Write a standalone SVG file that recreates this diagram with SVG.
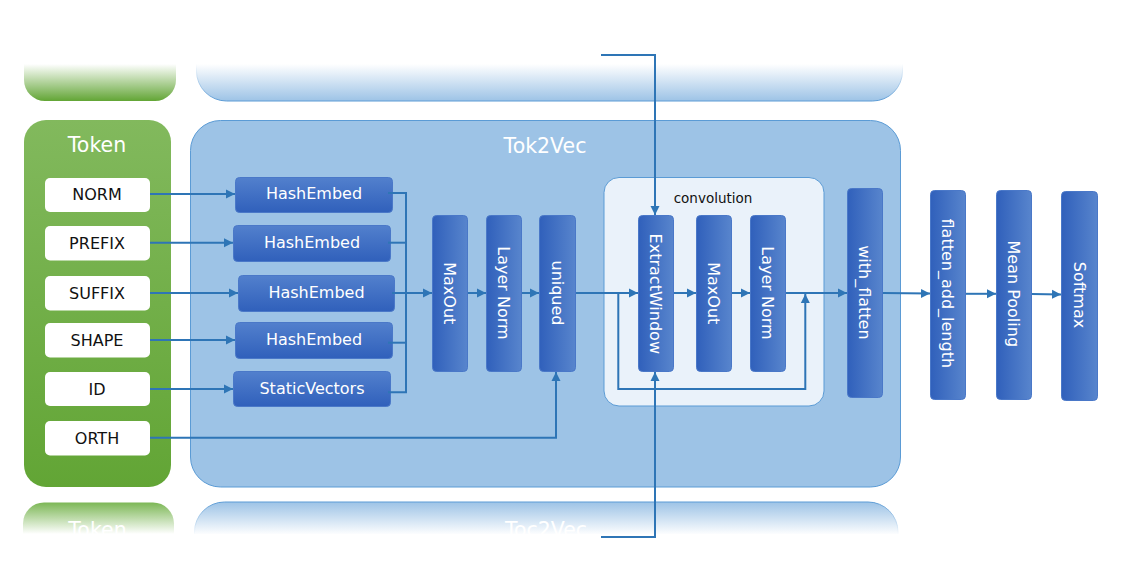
<svg xmlns="http://www.w3.org/2000/svg" width="1127" height="586" viewBox="0 0 1127 586">
<defs>
<style>
.t{font-family:"DejaVu Sans","Liberation Sans",sans-serif;}
.in{fill:#ffffff;}
.inT{font-size:16px;fill:#111111;text-anchor:middle;}
.nd{fill:url(#gH);stroke:#4a78c8;stroke-width:1;}
.ndv{fill:url(#gV);stroke:#4a78c8;stroke-width:1;}
.nT{font-size:16px;fill:#ffffff;text-anchor:middle;}
.ttl{font-size:20.5px;fill:#ffffff;text-anchor:middle;}
.c{fill:none;stroke:#2e75b6;stroke-width:2;}
.ca{fill:none;stroke:#2e75b6;stroke-width:2;marker-end:url(#ah);}
</style>
<linearGradient id="gH" x1="0" y1="0" x2="0" y2="1">
<stop offset="0" stop-color="#5280cd"/>
<stop offset="1" stop-color="#3060bb"/>
</linearGradient>
<linearGradient id="gV" x1="0" y1="0" x2="1" y2="0">
<stop offset="0" stop-color="#3060bb"/>
<stop offset="1" stop-color="#5885cd"/>
</linearGradient>
<linearGradient id="gTok" x1="0" y1="0" x2="0" y2="1">
<stop offset="0" stop-color="#82b95d"/>
<stop offset="1" stop-color="#62a535"/>
</linearGradient>
<linearGradient id="fadeGT" gradientUnits="userSpaceOnUse" x1="0" y1="64" x2="0" y2="101">
<stop offset="0" stop-color="#ffffff"/>
<stop offset="1" stop-color="#62a535"/>
</linearGradient>
<linearGradient id="fadeBT" gradientUnits="userSpaceOnUse" x1="0" y1="64" x2="0" y2="101">
<stop offset="0" stop-color="#ffffff"/>
<stop offset="1" stop-color="#9dc3e6"/>
</linearGradient>
<linearGradient id="fadeBTs" gradientUnits="userSpaceOnUse" x1="0" y1="64" x2="0" y2="101">
<stop offset="0" stop-color="#ffffff"/>
<stop offset="1" stop-color="#5b9bd5"/>
</linearGradient>
<linearGradient id="fadeGB" gradientUnits="userSpaceOnUse" x1="0" y1="502" x2="0" y2="534">
<stop offset="0" stop-color="#7ab653"/>
<stop offset="1" stop-color="#ffffff"/>
</linearGradient>
<linearGradient id="fadeBB" gradientUnits="userSpaceOnUse" x1="0" y1="502" x2="0" y2="535">
<stop offset="0" stop-color="#9dc3e6"/>
<stop offset="1" stop-color="#ffffff"/>
</linearGradient>
<linearGradient id="fadeBBs" gradientUnits="userSpaceOnUse" x1="0" y1="502" x2="0" y2="535">
<stop offset="0" stop-color="#5b9bd5"/>
<stop offset="1" stop-color="#ffffff"/>
</linearGradient>
<clipPath id="clipTop"><rect x="0" y="60" width="1127" height="50"/></clipPath>
<clipPath id="clipBot"><rect x="0" y="495" width="1127" height="39"/></clipPath>
<marker id="ah" viewBox="0 0 10 10" refX="10" refY="5" markerWidth="9" markerHeight="12" markerUnits="userSpaceOnUse" orient="auto">
<path d="M0,0 L10,5 L0,10 z" fill="#2e75b6"/>
</marker>
</defs>
<rect width="1127" height="586" fill="#ffffff"/>

<!-- faded reflections -->
<g id="fadeTop" clip-path="url(#clipTop)">
<rect x="24" y="20" width="152" height="81" rx="21" fill="url(#fadeGT)"/>
<rect x="196.5" y="20" width="706" height="81" rx="30" fill="url(#fadeBT)" stroke="url(#fadeBTs)" stroke-width="1"/>
</g>
<g id="fadeBottom" clip-path="url(#clipBot)">
<rect x="23" y="502.5" width="151" height="80" rx="21" fill="url(#fadeGB)"/>
<rect x="194.5" y="502" width="703.5" height="80" rx="30" fill="url(#fadeBB)" stroke="url(#fadeBBs)" stroke-width="1"/>
<text class="t ttl" x="97.5" y="537">Token</text>
<text class="t ttl" x="546" y="537">Toc2Vec</text>
</g>

<!-- Token panel -->
<g id="token">
<rect x="24" y="120" width="147" height="367" rx="22" fill="url(#gTok)"/>
<text class="t ttl" x="97" y="151.5">Token</text>
</g>

<!-- Tok2Vec panel -->
<g id="tok2vec">
<rect x="190.5" y="120.5" width="710" height="366.5" rx="30" fill="#9dc3e6" stroke="#5b9bd5" stroke-width="1"/>
<text class="t ttl" x="545" y="153">Tok2Vec</text>
</g>

<!-- convolution panel -->
<g id="convolution">
<rect x="604" y="177.5" width="220" height="228.5" rx="15" fill="#eaf2fa" stroke="#5b9bd5" stroke-width="1"/>
<text class="t" x="713" y="203" font-size="13.5" fill="#111111" text-anchor="middle">convolution</text>
</g>

<!-- inputs -->
<g id="in-norm"><rect class="in" x="45" y="178" width="105" height="34" rx="5"/><text class="t inT" x="97" y="199.8">NORM</text></g>
<g id="in-prefix"><rect class="in" x="45" y="226" width="105" height="34.5" rx="5"/><text class="t inT" x="97" y="248.8">PREFIX</text></g>
<g id="in-suffix"><rect class="in" x="45" y="276" width="105" height="34.5" rx="5"/><text class="t inT" x="97" y="298.8">SUFFIX</text></g>
<g id="in-shape"><rect class="in" x="45" y="323" width="105" height="34.5" rx="5"/><text class="t inT" x="97" y="345.8">SHAPE</text></g>
<g id="in-id"><rect class="in" x="45" y="372" width="105" height="34" rx="5"/><text class="t inT" x="97" y="394.8">ID</text></g>
<g id="in-orth"><rect class="in" x="45" y="421" width="105" height="34.5" rx="5"/><text class="t inT" x="97" y="443.8">ORTH</text></g>

<!-- embeddings -->
<g id="hashembed1"><rect class="nd" x="235.5" y="177.5" width="157" height="35" rx="4"/><text class="t nT" x="314" y="198.8">HashEmbed</text></g>
<g id="hashembed2"><rect class="nd" x="233.5" y="225.5" width="157" height="36" rx="4"/><text class="t nT" x="312" y="248">HashEmbed</text></g>
<g id="hashembed3"><rect class="nd" x="238.5" y="275.5" width="156" height="36" rx="4"/><text class="t nT" x="316.5" y="298">HashEmbed</text></g>
<g id="hashembed4"><rect class="nd" x="235.5" y="322.5" width="157" height="36" rx="4"/><text class="t nT" x="314" y="345">HashEmbed</text></g>
<g id="staticvectors"><rect class="nd" x="233.5" y="371.5" width="157" height="35" rx="4"/><text class="t nT" x="312" y="393.8">StaticVectors</text></g>

<!-- vertical nodes -->
<g id="maxout1"><rect class="ndv" x="432.5" y="215.5" width="35" height="156" rx="4"/><text class="t nT" x="450" y="299" transform="rotate(90 450 293.3)">MaxOut</text></g>
<g id="layernorm1"><rect class="ndv" x="486.5" y="215.5" width="35" height="156" rx="4"/><text class="t nT" x="504" y="299" transform="rotate(90 504 293)">Layer Norm</text></g>
<g id="uniqued"><rect class="ndv" x="539.5" y="215.5" width="36" height="156" rx="4"/><text class="t nT" x="557.5" y="299" transform="rotate(90 557.5 293)">uniqued</text></g>
<g id="extractwindow"><rect class="ndv" x="638.5" y="215.5" width="35" height="156" rx="4"/><text class="t nT" x="656" y="299.6" transform="rotate(90 656 293.8)">ExtractWindow</text></g>
<g id="maxout2"><rect class="ndv" x="696.5" y="215.5" width="35" height="156" rx="4"/><text class="t nT" x="714" y="299" transform="rotate(90 714 293.3)">MaxOut</text></g>
<g id="layernorm2"><rect class="ndv" x="750.5" y="215.5" width="35" height="156" rx="4"/><text class="t nT" x="768" y="299" transform="rotate(90 768 293)">Layer Norm</text></g>
<g id="with_flatten"><rect class="ndv" x="847.5" y="188.5" width="35" height="209" rx="4"/><text class="t nT" x="865" y="298.2" transform="rotate(90 865 292.4)">with_flatten</text></g>
<g id="flatten_add_length"><rect class="ndv" x="930.5" y="190.5" width="35" height="209" rx="4"/><text class="t nT" x="948" y="299.1" transform="rotate(90 948 293.3)">flatten_add_length</text></g>
<g id="mean_pooling"><rect class="ndv" x="996.5" y="190.5" width="35" height="209" rx="4"/><text class="t nT" x="1014" y="299.6" transform="rotate(90 1014 293.8)">Mean Pooling</text></g>
<g id="softmax"><rect class="ndv" x="1061.5" y="191.5" width="36" height="209" rx="4"/><text class="t nT" x="1079.5" y="300.8" transform="rotate(90 1079.5 295)">Softmax</text></g>

<!-- connectors -->
<g id="connectors">
<path class="ca" d="M150,194 H235"/>
<path class="ca" d="M150,242.7 H233"/>
<path class="ca" d="M150,293 H238"/>
<path class="ca" d="M150,340 H235"/>
<path class="ca" d="M150,389 H233"/>
<path class="c" d="M388,193 H406 V392.3 H388"/>
<path class="c" d="M388,242.7 H406"/>
<path class="c" d="M392,293 H406"/>
<path class="c" d="M388,342.7 H406"/>
<path class="ca" d="M406,293 H432"/>
<path class="ca" d="M468,293 H486"/>
<path class="ca" d="M522,293 H539"/>
<path class="ca" d="M576,293 H638"/>
<path class="ca" d="M674,293 H696"/>
<path class="ca" d="M732,293 H750"/>
<path class="ca" d="M786,293 H847"/>
<path class="ca" d="M618.3,293 V389 H805.3 V294"/>
<path class="ca" d="M150,437.7 H556 V372"/>
<path class="ca" d="M601,55 H655 V215"/>
<path class="ca" d="M601,537 H655 V372"/>
<path class="ca" d="M883,293 L930,293.5"/>
<path class="ca" d="M966,293.8 H996"/>
<path class="ca" d="M1032,294 L1061,294.5"/>
</g>
</svg>
